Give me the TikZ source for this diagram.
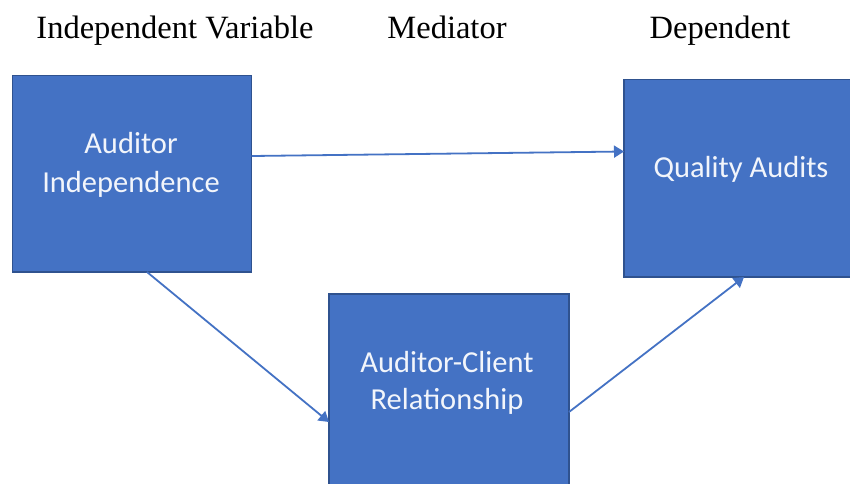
\documentclass[tikz,border=0pt]{standalone}
\usepackage{fontspec}
\setmainfont{Liberation Serif}
\newfontfamily\boxfont{Carlito}
\usetikzlibrary{arrows.meta}

\definecolor{boxfill}{HTML}{4472C4}
\definecolor{boxline}{HTML}{2F528F}
\definecolor{boxtext}{HTML}{F2F5FB}

\tikzset{
  varbox/.style={draw=boxline, line width=1.4pt, fill=boxfill, inner sep=0pt, outer sep=0pt},
  header/.style={anchor=base, inner sep=0pt, font=\fontsize{32.5}{36}\selectfont},
  boxlabel/.style={anchor=base, inner sep=0pt, text=boxtext, font=\boxfont\fontsize{30.5}{36}\selectfont},
  link/.style={draw=boxfill, line width=1.8pt, -{Triangle[length=10pt,width=12pt]}}
}

\begin{document}
\begin{tikzpicture}[x=1pt, y=-1pt]
  \useasboundingbox (0,0) rectangle (850,483);
  \clip (0,0) rectangle (850,483);
  \fill[white] (0,0) rectangle (850,483);

  % column headings
  \node[header] (hIV)  at (175,38) {Independent Variable};
  \node[header] (hMed) at (447,38) {Mediator};
  \node[header] (hDep) at (720,38) {Dependent};

  % the three variable boxes
  \node[varbox, minimum width=239pt, minimum height=196.7pt] (iv) at (132.2,173.65) {};
  \node[varbox, minimum width=242pt, minimum height=197.5pt] (dv) at (745,178.25) {};
  \node[varbox, minimum width=240pt, minimum height=206pt] (med) at (449,397) {};

  % box captions
  \node[boxlabel] (ivA) at (131,153) {Auditor};
  \node[boxlabel] (ivB) at (131,192) {Independence};
  \node[boxlabel] (dvA) at (741,177) {Quality Audits};
  \node[boxlabel] (mdA) at (447,372) {Auditor-Client};
  \node[boxlabel] (mdB) at (447,409) {Relationship};

  % connector end points on the box edges
  \coordinate (ivE) at (251.7,156);
  \coordinate (dvW) at (624,151.5);
  \coordinate (ivS) at (147,272);
  \coordinate (medW) at (329,422);
  \coordinate (medE) at (569,412);
  \coordinate (dvS) at (744,277);

  \draw[link] (ivE)  -- (dvW);
  \draw[link] (ivS)  -- (medW);
  \draw[link] (medE) -- (dvS);
\end{tikzpicture}
\end{document}
